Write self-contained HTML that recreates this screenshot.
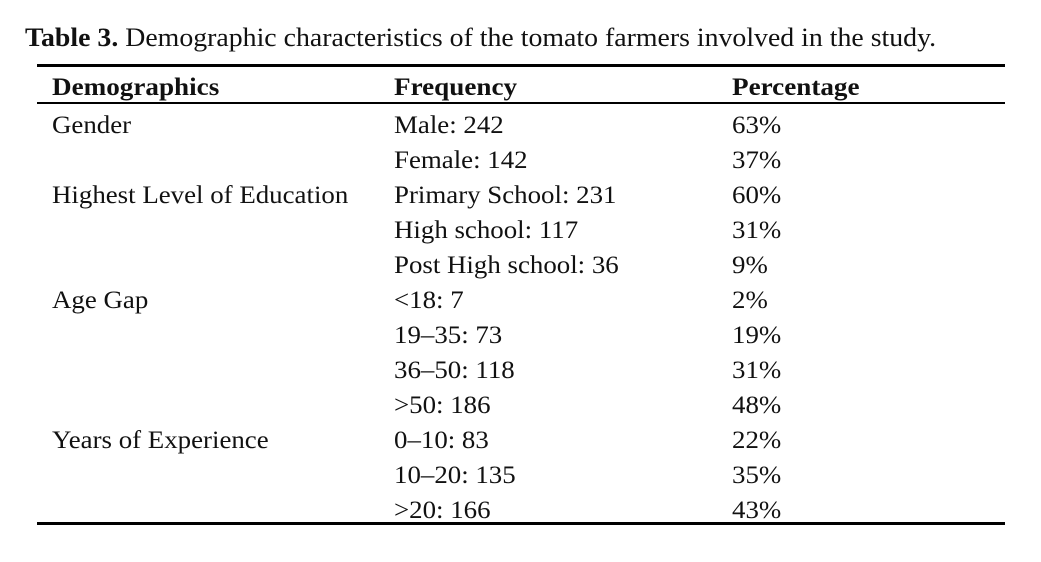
<!DOCTYPE html>
<html><head><meta charset="utf-8"><style>
body{margin:0;width:1041px;height:562px;background:#fff;position:relative;font-family:"Liberation Serif","DejaVu Serif",serif;color:#111;overflow:hidden}
.t{position:absolute;white-space:nowrap;font-size:25px;line-height:1;transform:scaleX(1.075);transform-origin:0 0}
.b{font-weight:bold}
.r{position:absolute;left:37px;width:968px;background:#000}
</style></head><body>
<div class="t" style="left:25px;top:25px;font-size:26px;transform:scaleX(1.07)"><span class="b">Table 3.</span> Demographic characteristics of the tomato farmers involved in the study.</div>
<div class="r" style="top:64px;height:3px"></div>
<div class="t b" style="left:52px;top:75px;transform:scaleX(1.085)">Demographics</div>
<div class="t b" style="left:394px;top:75px;transform:scaleX(1.085)">Frequency</div>
<div class="t b" style="left:732px;top:75px;transform:scaleX(1.085)">Percentage</div>
<div class="r" style="top:102px;height:2px"></div>
<div class="t" style="left:52px;top:113px">Gender</div>
<div class="t" style="left:394px;top:113px">Male: 242</div><div class="t" style="left:732px;top:113px">63%</div>
<div class="t" style="left:394px;top:148px">Female: 142</div><div class="t" style="left:732px;top:148px">37%</div>
<div class="t" style="left:52px;top:183px">Highest Level of Education</div>
<div class="t" style="left:394px;top:183px">Primary School: 231</div><div class="t" style="left:732px;top:183px">60%</div>
<div class="t" style="left:394px;top:218px">High school: 117</div><div class="t" style="left:732px;top:218px">31%</div>
<div class="t" style="left:394px;top:253px">Post High school: 36</div><div class="t" style="left:732px;top:253px">9%</div>
<div class="t" style="left:52px;top:288px">Age Gap</div>
<div class="t" style="left:394px;top:288px">&lt;18: 7</div><div class="t" style="left:732px;top:288px">2%</div>
<div class="t" style="left:394px;top:323px">19–35: 73</div><div class="t" style="left:732px;top:323px">19%</div>
<div class="t" style="left:394px;top:358px">36–50: 118</div><div class="t" style="left:732px;top:358px">31%</div>
<div class="t" style="left:394px;top:393px">&gt;50: 186</div><div class="t" style="left:732px;top:393px">48%</div>
<div class="t" style="left:52px;top:428px">Years of Experience</div>
<div class="t" style="left:394px;top:428px">0–10: 83</div><div class="t" style="left:732px;top:428px">22%</div>
<div class="t" style="left:394px;top:463px">10–20: 135</div><div class="t" style="left:732px;top:463px">35%</div>
<div class="t" style="left:394px;top:498px">&gt;20: 166</div><div class="t" style="left:732px;top:498px">43%</div>
<div class="r" style="top:522px;height:3px"></div>
</body></html>
